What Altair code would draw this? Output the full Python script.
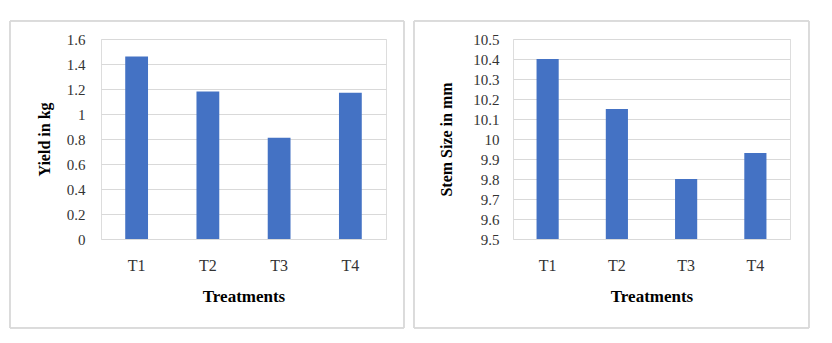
import altair as alt
import pandas as pd

treatments = ["T1", "T2", "T3", "T4"]
yield_kg = [1.46, 1.18, 0.81, 1.17]
stem_mm = [10.40, 10.15, 9.80, 9.93]

df1 = pd.DataFrame({"Treatment": treatments, "Yield": yield_kg})
df2 = pd.DataFrame({"Treatment": treatments, "Stem": stem_mm})

FONT = "Liberation Serif"
BAR = "#4472C4"
GRID = "#d9d9d9"
LABEL = "#333333"


def panel(df, field, title, domain, ticks, w, bx0, bx1, lab_pad, title_pad):
    x = alt.X("Treatment:N", sort=treatments,
              scale=alt.Scale(paddingInner=0.68, paddingOuter=0.34),
              axis=alt.Axis(title="Treatments", labelAngle=0, ticks=False, domain=False,
                            labelFont=FONT, titleFont=FONT, labelColor=LABEL,
                            titleColor="#000000", titleFontWeight="bold",
                            labelFontSize=16, labelPadding=18, titlePadding=15,
                            titleFontSize=17))
    y = alt.Y(f"{field}:Q",
              scale=alt.Scale(domain=domain, nice=False, zero=False),
              axis=alt.Axis(title=title, values=ticks, ticks=False, domain=False, format="~g",
                            labelFont=FONT, titleFont=FONT, labelColor=LABEL,
                            titleColor="#000000", titleFontWeight="bold",
                            labelFontSize=15, labelPadding=lab_pad, titlePadding=title_pad,
                            titleFontSize=16, gridColor=GRID))
    bars = alt.Chart(df).mark_bar(color=BAR, clip=True).encode(x=x, y=y)
    border = alt.Chart(df).mark_rect(filled=False, stroke=GRID, strokeWidth=1, clip=False).encode(
        x=alt.value(bx0), x2=alt.value(bx1), y=alt.value(-18), y2=alt.value(289))
    return alt.layer(border, bars).properties(width=w, height=200)


left = panel(df1, "Yield", "Yield in kg", [0, 1.6],
             [0, 0.2, 0.4, 0.6, 0.8, 1.0, 1.2, 1.4, 1.6], 285, -91, 303, 16, 14)
right = panel(df2, "Stem", "Stem Size in mm", [9.5, 10.5],
              [9.5, 9.6, 9.7, 9.8, 9.9, 10.0, 10.1, 10.2, 10.3, 10.4, 10.5], 277, -99, 296, 14, 18)

chart = alt.hconcat(left, right, spacing=8).properties(
    padding={"left": 1, "top": 12, "right": 0, "bottom": 0}
).configure_view(stroke=None).configure(background="white", font=FONT)

chart.save("out.html", embed_options={"renderer": "svg", "actions": False})
